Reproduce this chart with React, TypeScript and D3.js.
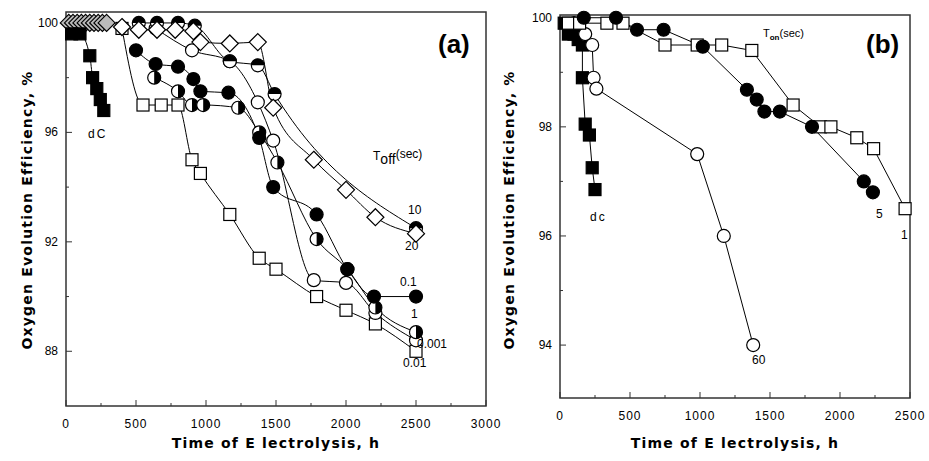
import * as d3 from "d3";
import React from "react";

type Pt = [number, number];
type Marker = "sqF" | "sqO" | "circF" | "circO" | "halfTop" | "halfRight" | "diaO" | "diaH";

// panel (a): T_off series
const aDc: Pt[] = [[40, 99.6], [100, 99.6], [170, 98.8], [190, 98.0], [220, 97.6], [245, 97.2], [270, 96.8]];
const aT20: Pt[] = [[400, 99.85], [520, 99.75], [650, 99.75], [780, 99.75], [910, 99.7], [960, 99.3], [1170, 99.25], [1370, 99.3], [1480, 96.9], [1770, 95.0], [2000, 93.9], [2210, 92.9], [2500, 92.3]];
const aHatch: Pt[] = [[20, 100], [50, 100], [80, 100], [110, 100], [140, 100], [170, 100], [200, 100], [230, 100], [260, 100], [290, 100]];
const aT10: Pt[] = [[520, 100], [650, 100], [800, 100], [920, 99.9], [1170, 98.6], [1370, 98.45], [1490, 97.4], [2500, 92.5]];
const aT01: Pt[] = [[500, 99.0], [640, 98.5], [800, 98.4], [910, 97.95], [960, 97.5], [1160, 97.45], [1380, 95.8], [1480, 94.0], [1790, 93.0], [2010, 91.0], [2200, 90.0], [2500, 90.0]];
const aT1: Pt[] = [[630, 98.0], [800, 97.5], [900, 97.0], [980, 97.0], [1230, 96.9], [1380, 96.0], [1510, 94.9], [1790, 92.1], [2010, 91.0], [2210, 89.6], [2500, 88.7]];
const aT0001: Pt[] = [[640, 99.8], [900, 99.0], [1170, 98.6], [1370, 97.1], [1480, 95.7], [1770, 90.6], [2000, 90.5], [2210, 89.4], [2500, 88.4]];
const aT001: Pt[] = [[400, 99.8], [550, 97.0], [680, 97.0], [800, 97.0], [900, 95.0], [960, 94.5], [1170, 93.0], [1380, 91.4], [1500, 91.0], [1790, 90.0], [2000, 89.5], [2210, 89.0], [2500, 88.0]];

// panel (b): T_on series
const bDc: Pt[] = [[30, 99.9], [60, 99.7], [100, 99.7], [130, 99.6], [160, 99.5], [160, 98.9], [180, 98.05], [210, 97.85], [230, 97.25], [250, 96.85]];
const bT60: Pt[] = [[100, 99.9], [180, 99.7], [230, 99.5], [240, 98.9], [260, 98.7], [980, 97.5], [1170, 96.0], [1380, 94.0]];
const bT5: Pt[] = [[170, 100], [400, 100], [550, 99.78], [740, 99.78], [1020, 99.47], [1335, 98.68], [1405, 98.5], [1460, 98.28], [1570, 98.28], [1800, 98.0], [2170, 97.0], [2235, 96.8]];
const bT1: Pt[] = [[60, 99.9], [140, 99.9], [335, 99.9], [450, 99.9], [750, 99.5], [980, 99.5], [1155, 99.5], [1370, 99.4], [1665, 98.4], [1860, 98.0], [1935, 98.0], [2120, 97.8], [2240, 97.6], [2465, 96.5]];

const aXTicks = [0, 500, 1000, 1500, 2000, 2500, 3000];
const aYTicks = [88, 92, 96, 100];
const bXTicks = [0, 500, 1000, 1500, 2000, 2500];
const bYTicks = [94, 96, 98, 100];

const FONT = "Arial, 'Liberation Sans', sans-serif";

const MarkerShape = ({ m, x, y }: { m: Marker; x: number; y: number }) => {
  const s = 6.5;
  const sw = 1.2;
  if (m === "sqF" || m === "sqO")
    return <rect x={x - 6} y={y - 6} width={12} height={12} fill={m === "sqF" ? "#000" : "#fff"} stroke="#000" strokeWidth={sw} />;
  if (m === "diaO" || m === "diaH") {
    const r = 8.5;
    return <path d={`M${x},${y - r}L${x + r},${y}L${x},${y + r}L${x - r},${y}Z`} fill={m === "diaH" ? "#bbb" : "#fff"} stroke="#000" strokeWidth={sw} />;
  }
  if (m === "circF" || m === "circO")
    return <circle cx={x} cy={y} r={s} fill={m === "circF" ? "#000" : "#fff"} stroke="#000" strokeWidth={sw} />;
  const half = m === "halfTop"
    ? `M${x - s},${y}A${s},${s} 0 0 1 ${x + s},${y}Z`
    : `M${x},${y - s}A${s},${s} 0 0 1 ${x},${y + s}Z`;
  return (
    <g>
      <circle cx={x} cy={y} r={s} fill="#fff" stroke="#000" strokeWidth={sw} />
      <path d={half} fill="#000" />
    </g>
  );
};

interface Series { pts: Pt[]; m: Marker; line: boolean }

const Panel = ({ left, right, top, bottom, xMax, yMin, yMax, xTicks, yTicks, series, smooth, children }: {
  left: number; right: number; top: number; bottom: number; xMax: number; yMin: number; yMax: number;
  xTicks: number[]; yTicks: number[]; series: Series[]; smooth: boolean; children?: React.ReactNode;
}) => {
  const x = d3.scaleLinear().domain([0, xMax]).range([left, right]);
  const y = d3.scaleLinear().domain([yMin, yMax]).range([bottom, top]);
  const line = d3.line<Pt>().x((d) => x(d[0])).y((d) => y(d[1]))
    .curve(smooth ? d3.curveMonotoneX : d3.curveLinear);
  const minorX = xTicks.slice(0, -1).map((t, i) => (t + xTicks[i + 1]) / 2);
  const minorY = yTicks.slice(0, -1).map((t, i) => (t + yTicks[i + 1]) / 2);
  return (
    <g>
      <rect x={left} y={top} width={right - left} height={bottom - top} fill="none" stroke="#333" strokeWidth={1.5} />
      {xTicks.map((t) => (
        <g key={t}>
          <line x1={x(t)} x2={x(t)} y1={bottom} y2={bottom - 6} stroke="#333" />
          <text x={x(t)} y={bottom + 22} textAnchor="middle" fontSize={12} fontFamily={FONT} letterSpacing={1}>{t}</text>
        </g>
      ))}
      {minorX.map((t) => <line key={t} x1={x(t)} x2={x(t)} y1={bottom} y2={bottom - 3} stroke="#333" />)}
      {yTicks.map((t) => (
        <g key={t}>
          <line x1={left} x2={left + 6} y1={y(t)} y2={y(t)} stroke="#333" />
          <text x={left - 8} y={y(t) + 4} textAnchor="end" fontSize={12} fontFamily={FONT}>{t}</text>
        </g>
      ))}
      {minorY.map((t) => <line key={t} x1={left} x2={left + 3} y1={y(t)} y2={y(t)} stroke="#333" />)}
      {series.filter((s) => s.line).map((s, i) => (
        <path key={i} d={line(s.pts) ?? ""} fill="none" stroke="#000" strokeWidth={1} />
      ))}
      {series.map((s, i) => s.pts.map((p, j) => <MarkerShape key={`${i}-${j}`} m={s.m} x={x(p[0])} y={y(p[1])} />))}
      {children}
    </g>
  );
};

export default function App() {
  const tl = { fontSize: 12, fontFamily: FONT } as const;
  const title = { fontSize: 14, fontWeight: 900, fontFamily: "'DejaVu Sans', sans-serif", letterSpacing: 1.2 } as const;
  return (
    <svg width={929} height={461} style={{ position: "absolute", left: 0, top: 0, background: "#fff" }}>
      <Panel left={66} right={486} top={12} bottom={406} xMax={3000} yMin={86} yMax={100.4}
        xTicks={aXTicks} yTicks={aYTicks} smooth={true}
        series={[
          { pts: aHatch, m: "diaH", line: false },
          { pts: aDc, m: "sqF", line: true },
          { pts: aT001, m: "sqO", line: true },
          { pts: aT0001, m: "circO", line: true },
          { pts: aT1, m: "halfRight", line: true },
          { pts: aT01, m: "circF", line: true },
          { pts: aT10, m: "halfTop", line: true },
          { pts: aT20, m: "diaO", line: true },
        ]}>
        <text x={88} y={138} {...tl} letterSpacing={2}>dC</text>
        <text x={373} y={160} {...tl}>T<tspan fontSize={14} dy={4}>off</tspan><tspan dy={-6}>(sec)</tspan></text>
        <text x={408} y={214} {...tl}>10</text>
        <text x={405} y={250} {...tl}>20</text>
        <text x={400} y={286} {...tl}>0.1</text>
        <text x={411} y={318} {...tl}>1</text>
        <text x={417} y={348} {...tl}>0.001</text>
        <text x={403} y={367} {...tl}>0.01</text>
        <text x={438} y={53} fontSize={26} fontWeight="bold" fontFamily={FONT}>(a)</text>
      </Panel>
      <Panel left={560} right={910} top={15} bottom={398} xMax={2500} yMin={93.03} yMax={100.05}
        xTicks={bXTicks} yTicks={bYTicks} smooth={false}
        series={[
          { pts: bDc, m: "sqF", line: true },
          { pts: bT60, m: "circO", line: true },
          { pts: bT1, m: "sqO", line: true },
          { pts: bT5, m: "circF", line: true },
        ]}>
        <text x={590} y={221} {...tl} letterSpacing={2}>dc</text>
        <text x={763} y={37} fontSize={11} fontFamily={FONT}>T<tspan fontSize={8} fontWeight="bold" dy={3}>on</tspan><tspan dy={-3}>(sec)</tspan></text>
        <text x={876} y={218} {...tl}>5</text>
        <text x={901} y={239} {...tl}>1</text>
        <text x={752} y={364} {...tl}>60</text>
        <text x={866} y={53} fontSize={26} fontWeight="bold" fontFamily={FONT}>(b)</text>
      </Panel>
      <text x={276} y={448} textAnchor="middle" {...title}>Time of E lectrolysis, h</text>
      <text x={735} y={448} textAnchor="middle" {...title}>Time of E lectrolysis, h</text>
      <text transform="translate(32,210) rotate(-90)" textAnchor="middle" {...title}>Oxygen Evolution Efficiency, %</text>
      <text transform="translate(514,210) rotate(-90)" textAnchor="middle" {...title}>Oxygen Evolution Efficiency, %</text>
    </svg>
  );
}
